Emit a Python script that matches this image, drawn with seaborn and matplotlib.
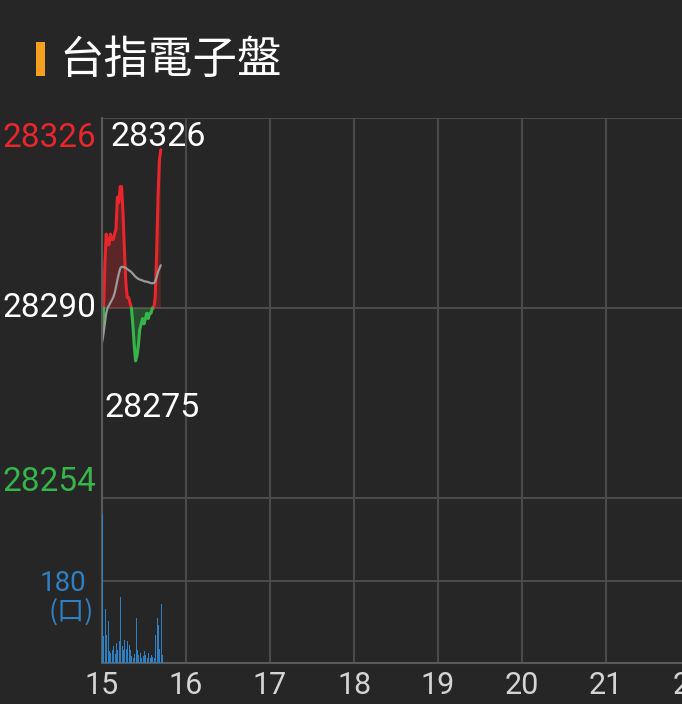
import numpy as np
import pandas as pd
import matplotlib
matplotlib.use("Agg")
import matplotlib.pyplot as plt
from matplotlib.patches import Rectangle
from matplotlib.transforms import ScaledTranslation
import seaborn as sns

# data (minutes after 15:00)
price_min = list(range(43))
price = [28286, 28288, 28298, 28304, 28302, 28302, 28304, 28303, 28303, 28304,
         28305, 28311, 28310, 28313, 28313, 28308, 28301, 28295, 28292, 28292,
         28291, 28290, 28287, 28283, 28280, 28281, 28283, 28286, 28287, 28288,
         28287, 28288, 28289, 28288, 28289, 28289, 28290, 28290, 28292, 28300,
         28311, 28318, 28320]
avg_price = [28283.4, 28285, 28287, 28289, 28290, 28290.5, 28291, 28291.5, 28292, 28292.8,
             28294, 28295.3, 28296.5, 28297.5, 28297.8, 28297.8, 28297.7, 28297.6, 28297.4, 28297.2,
             28297, 28296.8, 28296.5, 28296.2, 28295.9, 28295.7, 28295.5, 28295.4, 28295.3, 28295.2,
             28295.1, 28295, 28295, 28294.9, 28294.8, 28294.7, 28294.7, 28294.7, 28295, 28295.8,
             28296.8, 28297.5, 28298.1]
vol_min = list(range(44))
volume = [325, 60, 117, 62, 92, 26, 22, 29, 37, 20, 44, 29, 48, 143, 37, 29, 50, 30,
          48, 40, 29, 15, 11, 20, 99, 29, 18, 22, 11, 15, 27, 18, 11, 22, 11, 18,
          14, 11, 62, 99, 84, 30, 128, 18]
ref_price = 28290
price_hi, price_lo = 28326, 28254
day_high, day_low = 28326, 28275
hour_ticks = [15, 16, 17, 18, 19, 20, 21, 22]
title = "台指電子盤"

BG = "#262626"
GRID = "#4a4a4a"
RED = "#e8262b"
GREEN = "#36b54a"
BLUE = "#2f80c2"

sns.set_theme(style="dark", rc={"figure.facecolor": BG, "axes.facecolor": BG,
                                "savefig.facecolor": BG})
plt.rcParams["font.family"] = ["Roboto", "Noto Sans CJK TC", "DejaVu Sans"]

fig = plt.figure(figsize=(6.82, 7.04), dpi=100)
W, H = 682, 704
ax_w = 7.1 * 84 / W
ax = fig.add_axes([102 / W, (H - 498) / H, ax_w, 380 / H])
axv = fig.add_axes([102 / W, (H - 663) / H, ax_w, 165 / H])

# split price line at the reference level
t = np.array(price_min) / 60 + 15
p = np.array(price, dtype=float)
tf, pf = [t[0]], [p[0]]
for i in range(1, len(p)):
    a, b = p[i - 1] - ref_price, p[i] - ref_price
    if a * b < 0:
        f = a / (a - b)
        tf.append(t[i - 1] + f * (t[i] - t[i - 1]))
        pf.append(ref_price)
    tf.append(t[i])
    pf.append(p[i])
tf, pf = np.array(tf), np.array(pf)

rows = []
seg, prev = 0, None
for i in range(len(pf) - 1):
    side = "up" if (pf[i] + pf[i + 1]) / 2 >= ref_price else "down"
    if side != prev:
        seg += 1
        prev = side
        rows.append((seg, side, tf[i], pf[i]))
    rows.append((seg, side, tf[i + 1], pf[i + 1]))
df = pd.DataFrame(rows, columns=["seg", "side", "t", "p"])

ax.fill_between(tf, pf, ref_price, where=pf >= ref_price, interpolate=True,
                color=RED, alpha=0.28, lw=0)
ax.fill_between(tf, pf, ref_price, where=pf <= ref_price, interpolate=True,
                color=GREEN, alpha=0.28, lw=0)
sns.lineplot(data=df[df.side == "up"], x="t", y="p", units="seg", estimator=None,
             color=RED, lw=2.2, ax=ax)
sns.lineplot(data=df[df.side == "down"], x="t", y="p", units="seg", estimator=None,
             color=GREEN, lw=2.2, ax=ax)
sns.lineplot(x=t, y=avg_price, color="#9a9a9a", lw=1.6, ax=ax)

ax.text(15 + 8 / 84, 28322.4, str(day_high), color="white", fontsize=24.5, va="center", ha="left")
ax.text(15 + 2 / 84, 28271.0, str(day_low), color="white", fontsize=24.5, va="center", ha="left")

ax.set_xlim(15, 22.1)
ax.set_ylim(price_lo, price_hi)
ax.set_xticks(hour_ticks)
ax.set_xticklabels([])
ax.set_yticks([price_lo, ref_price, price_hi])
ax.set_yticklabels([str(price_lo), str(ref_price), ""])
for lab, c, va in zip(ax.get_yticklabels(), [GREEN, "white", RED], ["bottom", "center", "top"]):
    lab.set_color(c)
    lab.set_va(va)
    lab.set_fontsize(24)
# top price label sits a little under the top grid line
top_tr = ax.get_yaxis_transform() + ScaledTranslation(-6 / 100, -4 / 100, fig.dpi_scale_trans)
ax.text(0, price_hi, str(price_hi), color=RED, fontsize=24, ha="right", va="top",
        transform=top_tr)
ax.tick_params(length=0, pad=4)
ax.grid(True, color=GRID, lw=1.5)
ax.set_xlabel("")
ax.set_ylabel("")
for s in ax.spines.values():
    s.set_visible(False)
ax.spines["left"].set_visible(True)
ax.spines["left"].set_color("#5a5a5a")
ax.spines["left"].set_linewidth(1.5)

# volume
tv = np.array(vol_min) / 60 + 15
axv.bar(tv, volume, width=0.75 / 60, color=BLUE, align="edge", edgecolor="none", lw=0,
        zorder=3)
axv.set_xlim(15, 22.1)
axv.set_ylim(0, 360)
axv.set_xticks(hour_ticks)
axv.set_xticklabels([str(h) for h in hour_ticks], color="#d4d4d4", fontsize=22)
axv.set_yticks([180, 360])
axv.set_yticklabels(["180", ""], color=BLUE, fontsize=20)
axv.tick_params(axis="x", length=0, pad=6)
axv.tick_params(axis="y", length=0, pad=11)
axv.grid(True, color=GRID, lw=1.5)
axv.set_xlabel("")
axv.set_ylabel("")
for s in axv.spines.values():
    s.set_visible(False)
for k in ["left", "bottom"]:
    axv.spines[k].set_visible(True)
    axv.spines[k].set_color("#5a5a5a")
    axv.spines[k].set_linewidth(1.5)
fig.text(94 / W, 1 - 612 / H, "(口)", color=BLUE, fontsize=19.5, ha="right", va="center",
         family=["Noto Sans CJK TC", "DejaVu Sans"])

# title
fig.patches.append(Rectangle((36 / W, 1 - 76 / H), 9 / W, 34 / H, transform=fig.transFigure,
                             color="#f5a01e", lw=0))
fig.text(59 / W, 1 - 60 / H, title, color="white", fontsize=32, ha="left", va="center",
         family=["Noto Sans CJK TC", "DejaVu Sans"])

fig.savefig("out.png", dpi=100, facecolor=BG)
